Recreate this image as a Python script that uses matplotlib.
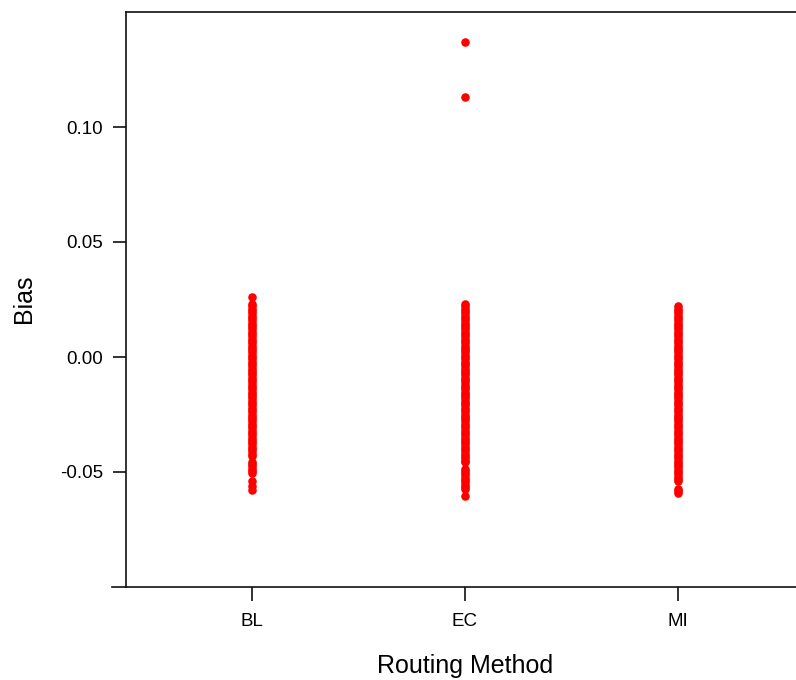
import matplotlib
matplotlib.use("Agg")
import matplotlib.pyplot as plt

plt.rcParams['font.family'] = ['Liberation Sans', 'DejaVu Sans']

categories = ["BL", "EC", "MI"]

bl_bias = [0.026, 0.023, 0.022, 0.021, 0.020, 0.019, 0.018, 0.017, 0.016, 0.015,
           0.014, 0.013, 0.012, 0.011, 0.010, 0.009, 0.008, 0.007, 0.006, 0.005,
           0.004, 0.003, 0.002, 0.001, 0.000, -0.001, -0.002, -0.003, -0.004, -0.005,
           -0.006, -0.007, -0.008, -0.009, -0.010, -0.011, -0.012, -0.013, -0.014, -0.015,
           -0.016, -0.017, -0.018, -0.019, -0.020, -0.021, -0.022, -0.023, -0.024, -0.025,
           -0.026, -0.027, -0.028, -0.029, -0.030, -0.031, -0.032, -0.033, -0.034, -0.035,
           -0.036, -0.037, -0.038, -0.039, -0.040, -0.041, -0.042, -0.043,
           -0.0455, -0.0465, -0.0475, -0.0485, -0.0495, -0.0505,
           -0.054, -0.056, -0.058]

ec_bias = [0.137, 0.113,
           0.023, 0.022, 0.021, 0.020, 0.019, 0.018, 0.017, 0.016, 0.015,
           0.014, 0.013, 0.012, 0.011, 0.010, 0.009, 0.008, 0.007, 0.006, 0.005,
           0.004, 0.003, 0.002, 0.001, 0.000, -0.001, -0.002, -0.003, -0.004, -0.005,
           -0.006, -0.007, -0.008, -0.009, -0.010, -0.011, -0.012, -0.013, -0.014, -0.015,
           -0.016, -0.017, -0.018, -0.019, -0.020, -0.021, -0.022, -0.023, -0.024, -0.025,
           -0.026, -0.027, -0.028, -0.029, -0.030, -0.031, -0.032, -0.033, -0.034, -0.035,
           -0.036, -0.037, -0.038, -0.039, -0.040, -0.041, -0.042, -0.043, -0.044, -0.045,
           -0.0458,
           -0.0485, -0.0495, -0.0505, -0.0515, -0.0525, -0.0535, -0.0545, -0.0555, -0.0565, -0.0575,
           -0.0605]

mi_bias = [0.022, 0.021, 0.020, 0.019, 0.018, 0.017, 0.016, 0.015,
           0.014, 0.013, 0.012, 0.011, 0.010, 0.009, 0.008, 0.007, 0.006, 0.005,
           0.004, 0.003, 0.002, 0.001, 0.000, -0.001, -0.002, -0.003, -0.004, -0.005,
           -0.006, -0.007, -0.008, -0.009, -0.010, -0.011, -0.012, -0.013, -0.014, -0.015,
           -0.016, -0.017, -0.018, -0.019, -0.020, -0.021, -0.022, -0.023, -0.024, -0.025,
           -0.026, -0.027, -0.028, -0.029, -0.030, -0.031, -0.032, -0.033, -0.034, -0.035,
           -0.036, -0.037, -0.038, -0.039, -0.040, -0.041, -0.042, -0.043, -0.044, -0.045,
           -0.046, -0.047, -0.048, -0.049, -0.050, -0.051, -0.052, -0.053, -0.054,
           -0.0572, -0.0582, -0.0592]

series = [bl_bias, ec_bias, mi_bias]

y_ticks = [-0.05, 0.00, 0.05, 0.10]
y_tick_labels = ["-0.05", "0.00", "0.05", "0.10"]

W, H = 796, 680
fig = plt.figure(figsize=(W / 100, H / 100), dpi=100)
ax_l, ax_r, ax_t, ax_b = 112, 796, 12, 587
ax = fig.add_axes([ax_l / W, (H - ax_b) / H, (ax_r - ax_l) / W, (ax_b - ax_t) / H])

for i, vals in enumerate(series):
    ax.scatter([i + 1] * len(vals), vals, s=38, color='#ff0000', linewidths=0, zorder=3)

spacing = 213.0
x0 = 1 - (252 - ax_l) / spacing
x1 = 3 + (ax_r - 678) / spacing
xl = 1 - (252 - 126) / spacing
ax.set_xlim(x0, x1)
ax.set_ylim(-0.10, 0.15)

ax.spines['right'].set_visible(False)
ax.spines['left'].set_position(('data', xl))
ax.spines['top'].set_bounds(xl, x1)
for s in ['left', 'top', 'bottom']:
    ax.spines[s].set_linewidth(1.2)
    ax.spines[s].set_color('#111111')

ax.set_xticks([1, 2, 3])
ax.set_xticklabels(categories)
ax.set_yticks(y_ticks)
ax.set_yticklabels(y_tick_labels)
ax.tick_params(axis='x', length=10, width=1.2, pad=9, labelsize=13.5, color='#111111')
ax.tick_params(axis='y', length=9.5, width=1.2, pad=7, labelsize=13.5, color='#111111')

fig.text(465 / W, 1 - 673 / H, "Routing Method", ha='center', va='baseline', fontsize=18)
fig.text(24 / W, 1 - 299 / H, "Bias", ha='center', va='center', rotation=90, fontsize=18)

fig.savefig("out.png", dpi=100)
